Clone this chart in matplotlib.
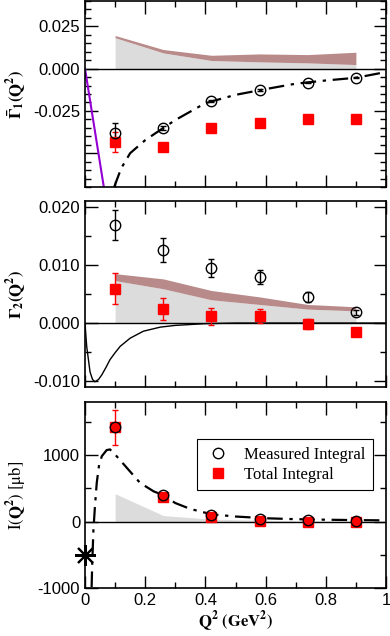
import numpy as np
import matplotlib
matplotlib.use("Agg")
import matplotlib.pyplot as plt
from matplotlib.ticker import MultipleLocator, FixedLocator, FixedFormatter

plt.rcParams['font.family'] = ['Liberation Sans', 'DejaVu Sans']
plt.rcParams['mathtext.fontset'] = 'stix'
plt.rcParams['axes.unicode_minus'] = False

# Q^2 points (GeV^2)
q2 = [0.1, 0.26, 0.42, 0.58, 0.74, 0.9]

# panel 1: Gamma1-bar
g1_meas = [-0.0379, -0.0351, -0.0192, -0.0129, -0.0082, -0.0054]
g1_meas_err = [0.0056, 0.0012, 0.0008, 0.0006, 0.0005, 0.0004]
g1_tot = [-0.0435, -0.0466, -0.0351, -0.0320, -0.0300, -0.0296]
g1_tot_err = [0.0058, 0.0015, 0.0008, 0.0007, 0.0006, 0.0005]
g1_band_lo = [0.0183, 0.0093, 0.0048, 0.0040, 0.0034, 0.0024]
g1_band_hi = [0.0196, 0.0113, 0.0079, 0.0087, 0.0083, 0.0097]
g1_model_x = [0.097, 0.12, 0.15, 0.2, 0.26, 0.3, 0.4, 0.5, 0.6, 0.7, 0.8, 0.9, 1.0]
g1_model_y = [-0.070, -0.059, -0.050, -0.0423, -0.0351, -0.0304, -0.0204, -0.0155,
              -0.0121, -0.0089, -0.0070, -0.0054, -0.0020]
gdh_slope_x = [0.0, 0.0625]
gdh_slope_y = [0.0, -0.070]

# panel 2: Gamma2
g2_meas = [0.01683, 0.01256, 0.00951, 0.0080, 0.0045, 0.00184]
g2_meas_err = [0.0026, 0.0020, 0.0015, 0.0012, 0.0009, 0.0004]
g2_tot = [0.00593, 0.00247, 0.00115, 0.00115, -0.0002, -0.0016]
g2_tot_err = [0.0026, 0.0019, 0.0015, 0.0012, 0.0009, 0.0005]
g2_band_lo = [0.0073, 0.0059, 0.0040, 0.0032, 0.0024, 0.0021]
g2_band_hi = [0.0085, 0.0076, 0.0056, 0.0045, 0.0032, 0.0028]
g2_model_x = [0.0, 0.0056, 0.0167, 0.025, 0.033, 0.045, 0.056, 0.07, 0.083, 0.1, 0.117,
              0.15, 0.194, 0.25, 0.3, 0.4, 0.5, 1.0]
g2_model_y = [0.0, -0.0040, -0.0084, -0.0097, -0.0101, -0.0097, -0.0089, -0.0076, -0.0063,
              -0.0051, -0.0040, -0.0026, -0.0014, -0.0007, -0.0004, -0.0001, 0.0, 0.0]

# panel 3: I(Q^2) in microbarn
i_meas = [1430, 394, 100, 35, 20, 12]
i_meas_err = [60, 20, 10, 5, 5, 5]
i_tot = [1420, 370, 67, 10, -5, -10]
i_tot_err = [260, 30, 15, 10, 8, 8]
i_band = [420, 91, 36, 20, 10, 5]
i_model_x = [0.022, 0.024, 0.028, 0.033, 0.039, 0.047, 0.056, 0.072, 0.083, 0.1, 0.139,
             0.183, 0.228, 0.256, 0.3, 0.35, 0.42, 0.5, 0.6, 0.7, 0.8, 0.9, 1.0]
i_model_y = [-985, -630, -126, 227, 582, 859, 985, 1076, 1086, 1010, 809, 582, 455, 405,
             279, 190, 110, 76, 50, 36, 28, 22, 18]
gdh_x = [0.0]
gdh_y = [-504]

RED = '#ff0000'
GREY = '#dcdcdc'
BROWN = '#b98a8a'

fig = plt.figure(figsize=(3.9, 6.36), dpi=100)
left, width = 85 / 390, 301 / 390
ax1 = fig.add_axes([left, 1 - 187 / 636, width, 186 / 636])
ax2 = fig.add_axes([left, 1 - 387 / 636, width, 186 / 636])
ax3 = fig.add_axes([left, 1 - 588 / 636, width, 186 / 636])

mk_c = dict(marker='o', ms=7.5, mfc='none', mec='black', mew=1.0, ls='none',
            ecolor='black', elinewidth=1.0, capsize=2, capthick=1.0)
mk_s = dict(marker='s', ms=7, mfc=RED, mec=RED, ls='none',
            ecolor=RED, elinewidth=1.0, capsize=2, capthick=1.0)

# panel 1
ax1.fill_between(q2, 0, g1_band_lo, color=GREY, lw=0)
ax1.fill_between(q2, g1_band_lo, g1_band_hi, color=BROWN, lw=0)
ax1.axhline(0, color='black', lw=1.0)
ax1.plot(gdh_slope_x, gdh_slope_y, color='#9400d3', lw=1.5)
ax1.plot(g1_model_x, g1_model_y, color='black', lw=1.6, dashes=[7, 3, 1.5, 3])
ax1.errorbar(q2, g1_tot, yerr=g1_tot_err, **mk_s)
ax1.errorbar(q2, g1_meas, yerr=g1_meas_err, **mk_c)
ax1.set_ylim(-0.07, 0.04)
ax1.yaxis.set_major_locator(FixedLocator([-0.05, -0.025, 0.0, 0.025]))
ax1.yaxis.set_major_formatter(FixedFormatter(['', '-0.025', '0.000', '0.025']))
ax1.yaxis.set_minor_locator(MultipleLocator(0.005))
ax1.set_ylabel(r'$\mathbf{\bar{\Gamma}_1(Q^2)}$', fontsize=12)

# panel 2
ax2.fill_between(q2, 0, g2_band_lo, color=GREY, lw=0)
ax2.fill_between(q2, g2_band_lo, g2_band_hi, color=BROWN, lw=0)
ax2.axhline(0, color='black', lw=1.0)
ax2.plot(g2_model_x, g2_model_y, color='black', lw=1.0)
ax2.errorbar(q2, g2_tot, yerr=g2_tot_err, **mk_s)
ax2.errorbar(q2, g2_meas, yerr=g2_meas_err, **mk_c)
ax2.set_ylim(-0.011, 0.021)
ax2.yaxis.set_major_locator(MultipleLocator(0.01))
ax2.yaxis.set_major_formatter(plt.FuncFormatter(lambda v, p: '%.3f' % v))
ax2.yaxis.set_minor_locator(MultipleLocator(0.005))
ax2.set_ylabel(r'$\mathbf{\Gamma_2(Q^2)}$', fontsize=12)

# panel 3
ax3.fill_between(q2, 0, i_band, color=GREY, lw=0)
ax3.axhline(0, color='black', lw=1.0)
ax3.plot(i_model_x, i_model_y, color='black', lw=1.6, dashes=[7, 3, 1.5, 3])
e_tot = ax3.errorbar(q2, i_tot, yerr=i_tot_err, **mk_s)
e_meas = ax3.errorbar(q2, i_meas, yerr=i_meas_err, **mk_c)
ax3.plot(gdh_x, gdh_y, marker=(8, 2, 0), ms=15, mew=1.5, color='black', ls='none',
         clip_on=False, zorder=5)
ax3.set_ylim(-1000, 1800)
ax3.yaxis.set_major_locator(MultipleLocator(1000))
ax3.yaxis.set_minor_locator(MultipleLocator(500))
ax3.set_ylabel(r'$\mathrm{I(\mathbf{Q^2})\ [μb]}$', fontsize=12)
ax3.set_xlabel(r'$\mathbf{Q^2\ (GeV^2)}$', fontsize=12, labelpad=1)
leg = ax3.legend([e_meas[0], e_tot[0]], ['Measured Integral', 'Total Integral'],
                 loc='upper right', bbox_to_anchor=(0.957, 0.801),
                 prop={'family': 'Liberation Serif', 'size': 12}, fancybox=False,
                 edgecolor='black', framealpha=1, borderpad=0.45, handletextpad=0.8,
                 handlelength=1.6, labelspacing=0.25, borderaxespad=0)
leg.get_frame().set_linewidth(0.8)

for ax in (ax1, ax2, ax3):
    ax.set_xlim(0, 1)
    ax.xaxis.set_major_locator(MultipleLocator(0.2))
    ax.xaxis.set_minor_locator(MultipleLocator(0.1))
    ax.tick_params(which='both', direction='in', top=True, right=True, labelsize=12)
    ax.tick_params(which='major', length=9, width=1.0)
    ax.tick_params(which='minor', length=4.5, width=1.0)
    ax.yaxis.set_label_coords(-0.185, 0.5)
    for s in ax.spines.values():
        s.set_linewidth(1.2)
ax3.xaxis.set_major_formatter(plt.FuncFormatter(lambda v, p: '%g' % v))
ax1.tick_params(labelbottom=False)
ax2.tick_params(labelbottom=False)

fig.savefig('out.png', dpi=100)
